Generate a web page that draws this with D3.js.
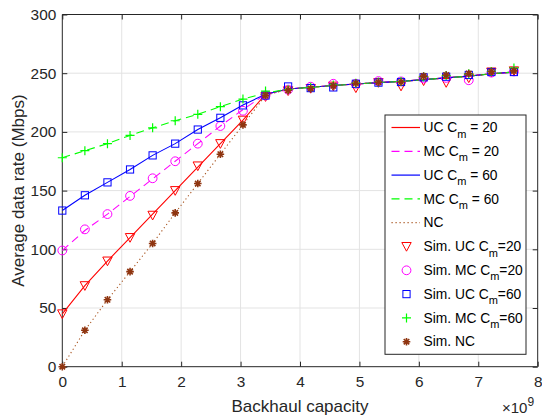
<!DOCTYPE html>
<html><head><meta charset="utf-8">
<script src="https://cdn.jsdelivr.net/npm/d3@7"></script>
<style>body{margin:0;background:#fff}svg{display:block;font-family:"Liberation Sans",Arial,sans-serif}</style>
</head><body><svg id="c" width="542" height="415"></svg>
<script>
const xVals=[0,0.38,0.76,1.14,1.52,1.9,2.28,2.66,3.04,3.42,3.8,4.18,4.56,4.94,5.32,5.7,6.08,6.46,6.84,7.22,7.6];
const xTicks=[0,1,2,3,4,5,6,7,8];
const yTicks=[0,50,100,150,200,250,300];
const plateau=[236.5,238,239.5,240.8,242,243,244.5,246,247.5,249.5,251];
const thUC20=[45,69,90,110,130,150,170,190,210,232].concat(plateau);
const thMC20=[99,116,130,145,160,175,190,205,219,232].concat(plateau);
const thUC60=[133,146,157,168,180,190,202,212,223,232].concat(plateau);
const thMC60=[178,184,190,197,203.5,209.5,215,221.5,228,233].concat(plateau);
const thNC=[0,31,57,81,105,131,156,181,206,231].concat(plateau);
const simUC20=[45,69,90,110,129,150,171,190,210,230,235,237,239,237.5,242,239,243.5,242,246,251,252];
const simMC20=[99,117,130,145.5,160.5,175,190,205,218,231,236,238.5,241,241,243.3,243,245.5,246,244,250.5,251.5];
const simUC60=[133,146,157,168,180,190,202,212,222.6,231,238.7,237.3,237.9,241,242,242.5,246.5,247,248.5,251,251];
const simMC60=[178,184,190,197,203.5,209.5,215,221.5,228,234.8,236,238,240,241.5,242.5,243,247,248,249.5,251.5,254.5];
const simNC=[0,31,57,81,105,131,156,181,206,231,235.5,237,239.3,241.5,242.3,242.5,247.5,248.5,249.8,251.5,252];

const brown="#8f3510";
const lines=[
 {name:"UC",sub:"m",rest:" = 20",data:thUC20,color:"#ff0000",dash:null},
 {name:"MC",sub:"m",rest:" = 20",data:thMC20,color:"#ff00ff",dash:"8,5"},
 {name:"UC",sub:"m",rest:" = 60",data:thUC60,color:"#0000ff",dash:null},
 {name:"MC",sub:"m",rest:" = 60",data:thMC60,color:"#00ff00",dash:"8,5"},
 {name:"NC",sub:null,rest:"",data:thNC,color:"#a8541f",dash:"1.2,2.8"}
];
const sims=[
 {name:"Sim. UC",sub:"m",rest:"=20",data:simUC20,color:"#ff0000",m:"tri"},
 {name:"Sim. MC",sub:"m",rest:"=20",data:simMC20,color:"#ff00ff",m:"circ"},
 {name:"Sim. UC",sub:"m",rest:"=60",data:simUC60,color:"#0000ff",m:"sq"},
 {name:"Sim. MC",sub:"m",rest:"=60",data:simMC60,color:"#00ff00",m:"plus"},
 {name:"Sim. NC",sub:null,rest:"",data:simNC,color:brown,m:"star"}
];

const svg=d3.select("#c");
const L=62.3,R=537.7,T=14.5,B=366.7;
const x=d3.scaleLinear().domain([0,8]).range([L,R]);
const y=d3.scaleLinear().domain([0,300]).range([B,T]);
const axc="#262626";
const FF="Liberation Sans, Arial, sans-serif";

// grid
svg.append("g").selectAll("line").data(xTicks.slice(1,-1)).join("line")
 .attr("x1",d=>x(d)).attr("x2",d=>x(d)).attr("y1",T).attr("y2",B).attr("stroke","#e3e3e3").attr("stroke-width",1);
svg.append("g").selectAll("line").data(yTicks.slice(1,-1)).join("line")
 .attr("y1",d=>y(d)).attr("y2",d=>y(d)).attr("x1",L).attr("x2",R).attr("stroke","#e3e3e3").attr("stroke-width",1);

// axes
const fs=15.4;
const gx=svg.append("g").attr("transform",`translate(0,${B})`).call(d3.axisBottom(x).tickValues(xTicks).tickSize(-5).tickPadding(9));
const gxt=svg.append("g").attr("transform",`translate(0,${T})`).call(d3.axisTop(x).tickValues(xTicks).tickSize(-5).tickFormat(""));
const gy=svg.append("g").attr("transform",`translate(${L},0)`).call(d3.axisLeft(y).tickValues(yTicks).tickSize(-5).tickPadding(6));
const gyr=svg.append("g").attr("transform",`translate(${R},0)`).call(d3.axisRight(y).tickValues(yTicks).tickSize(-5).tickFormat(""));
[gx,gxt,gy,gyr].forEach(g=>{
 g.select(".domain").attr("stroke",axc).attr("stroke-width",1);
 g.selectAll(".tick line").attr("stroke",axc);
 g.selectAll("text").attr("fill",axc).attr("font-size",fs).attr("font-family",FF);
});
gx.selectAll(".domain").attr("d",`M${L},0H${R}`);
gxt.selectAll(".domain").attr("d",`M${L},0H${R}`);
gy.selectAll(".domain").attr("d",`M0,${T}V${B}`);
gyr.selectAll(".domain").attr("d",`M0,${T}V${B}`);

// labels
svg.append("text").attr("x",(L+R)/2).attr("y",411.5).attr("text-anchor","middle").attr("font-size",17).attr("fill",axc).text("Backhaul capacity");
svg.append("text").attr("transform",`translate(24,${(T+B)/2}) rotate(-90)`).attr("text-anchor","middle").attr("font-size",17).attr("fill",axc).text("Average data rate (Mbps)");
const ex=svg.append("text").attr("x",502).attr("y",413).attr("font-size",15).attr("fill",axc);
ex.append("tspan").text("\u00d710");
ex.append("tspan").attr("dy",-7).attr("font-size",12).text("9");

// theory lines
const lg=d3.line().x((d,i)=>x(xVals[i])).y(d=>y(d));
lines.forEach(s=>{
 svg.append("path").attr("d",lg(s.data)).attr("fill","none").attr("stroke",s.color).attr("stroke-width",1.1)
  .attr("stroke-dasharray",s.dash);
});

// markers
function marker(g,type,color,cx,cy){
 if(type==="tri"){
  g.append("path").attr("d",`M${cx-4.7},${cy-4}L${cx+4.7},${cy-4}L${cx},${cy+4.7}Z`).attr("fill","none").attr("stroke",color).attr("stroke-width",1);
 } else if(type==="circ"){
  g.append("circle").attr("cx",cx).attr("cy",cy).attr("r",4.4).attr("fill","none").attr("stroke",color).attr("stroke-width",1);
 } else if(type==="sq"){
  g.append("rect").attr("x",cx-3.6).attr("y",cy-3.6).attr("width",7.2).attr("height",7.2).attr("fill","none").attr("stroke",color).attr("stroke-width",1);
 } else if(type==="plus"){
  g.append("path").attr("d",`M${cx-4.5},${cy}H${cx+4.5}M${cx},${cy-4.5}V${cy+4.5}`).attr("stroke",color).attr("stroke-width",1.2);
 } else if(type==="star"){
  const r=3.8,d=r*0.72;
  g.append("path").attr("d",`M${cx-r},${cy}H${cx+r}M${cx},${cy-r}V${cy+r}M${cx-d},${cy-d}L${cx+d},${cy+d}M${cx-d},${cy+d}L${cx+d},${cy-d}`).attr("stroke",color).attr("stroke-width",1.6);
 }
}
sims.forEach(s=>{
 const g=svg.append("g");
 s.data.forEach((v,i)=>marker(g,s.m,s.color,x(xVals[i]),y(v)));
});

// legend
const lx=385,ly=115,lw=141,lh=239.3;
const leg=svg.append("g");
leg.append("rect").attr("x",lx).attr("y",ly).attr("width",lw).attr("height",lh).attr("fill","#fff").attr("stroke",axc).attr("stroke-width",1);
const items=lines.map(d=>({...d,kind:"line"})).concat(sims.map(d=>({...d,kind:"mark"})));
items.forEach((it,i)=>{
 const cy=ly+12.5+i*23.8;
 if(it.kind==="line"){
  leg.append("line").attr("x1",lx+6.5).attr("x2",lx+35).attr("y1",cy).attr("y2",cy).attr("stroke",it.color).attr("stroke-width",1.2).attr("stroke-dasharray",it.dash);
 } else {
  marker(leg,it.m,it.color,lx+21.5,cy);
 }
 const t=leg.append("text").attr("x",lx+38.5).attr("y",cy+4.6).attr("font-size",13.8).attr("fill","#000").attr("font-family",FF);
 if(it.sub){
  t.append("tspan").text(it.name+" C");
  t.append("tspan").attr("dy",5.5).attr("font-size",11).text(it.sub);
  t.append("tspan").attr("dy",-5.5).text(it.rest);
 } else t.text(it.name);
});
</script></body></html>
